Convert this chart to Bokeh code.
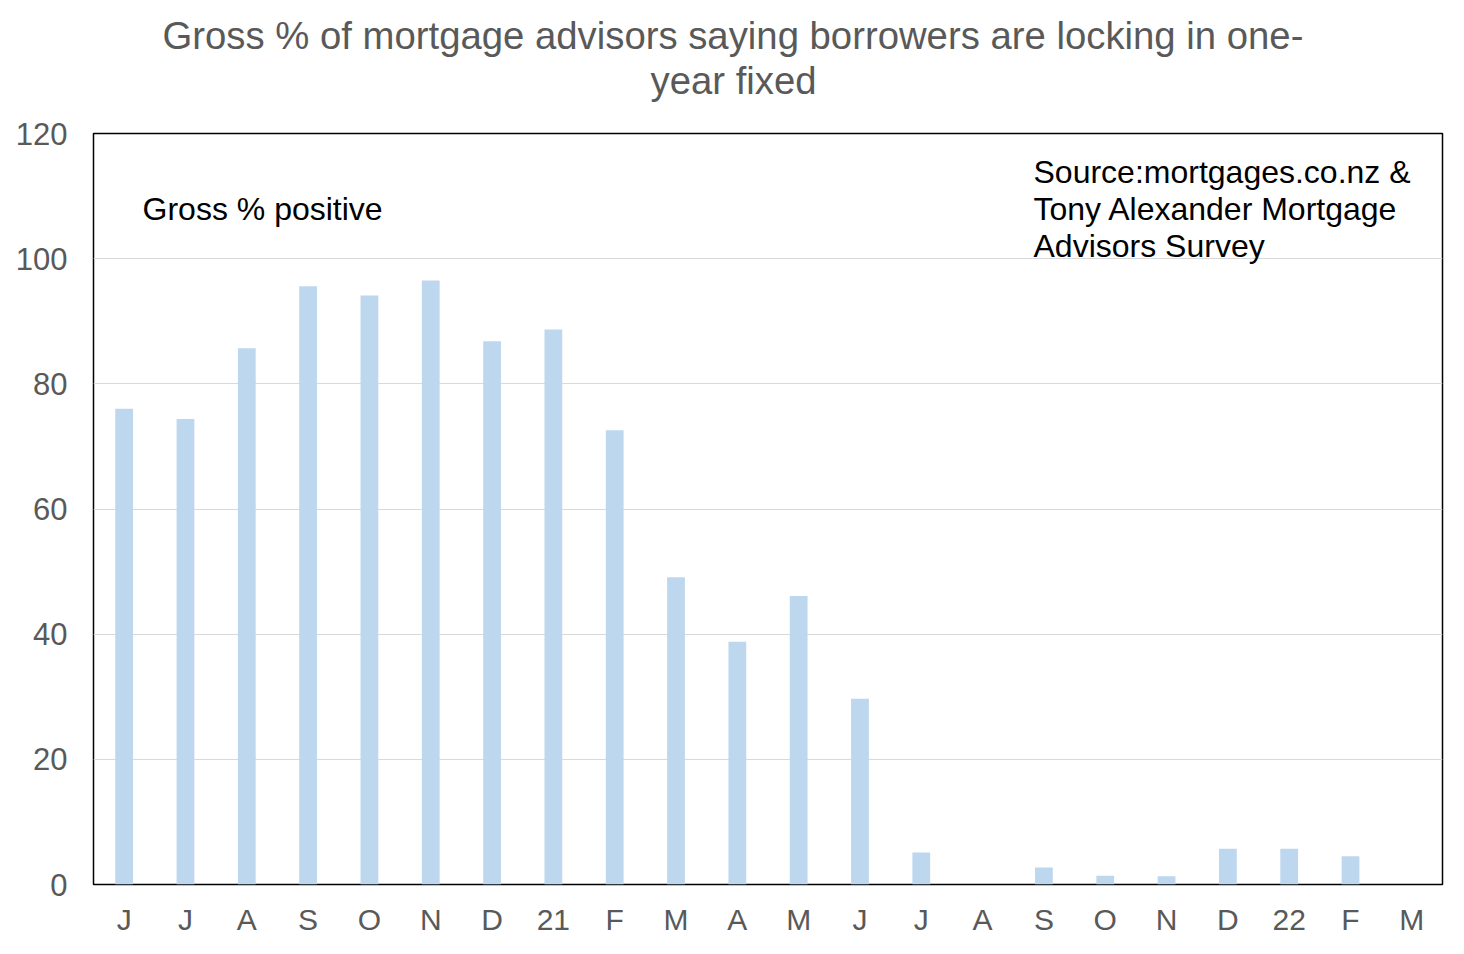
from bokeh.plotting import figure
from bokeh.models import Range1d, FixedTicker, Label, Title
from bokeh.embed import file_html
from bokeh.resources import INLINE

months = ["J", "J", "A", "S", "O", "N", "D", "21", "F", "M", "A", "M",
          "J", "J", "A", "S", "O", "N", "D", "22", "F", "M"]
gross_positive = [76.0, 74.4, 85.7, 95.6, 94.1, 96.5, 86.8, 88.7, 72.6, 49.1, 38.8, 46.1,
                  29.7, 5.1, 0.0, 2.7, 1.4, 1.3, 5.7, 5.7, 4.5, 0.0]
y_ticks = [0, 20, 40, 60, 80, 100, 120]
title_line1 = "Gross % of mortgage advisors saying borrowers are locking in one-"
title_line2 = "year fixed"
note_text = "Gross % positive"
source_text = "Source:mortgages.co.nz  &\nTony Alexander  Mortgage\nAdvisors Survey"

FONT = "Liberation Sans"
GREY = "#595959"

idx = list(range(len(months)))

p = figure(width=1448, height=938, output_backend="svg", toolbar_location=None,
           x_range=Range1d(-0.5, len(months) - 0.5), y_range=Range1d(0, 120),
           min_border_left=93, min_border_right=6, min_border_bottom=53, min_border_top=133)
p.title = None

p.vbar(x=idx, top=gross_positive, width=0.29, fill_color="#BDD7EE", line_color=None)

# spacer between frame and title (closest to frame), then title lines
p.add_layout(Title(text=" ", text_font=FONT, text_font_size="10px", standoff=19), "above")
p.add_layout(Title(text=title_line2, align="left", offset=557, text_font=FONT,
                   text_font_size="38.3px", text_color=GREY, text_font_style="normal",
                   standoff=0), "above")
p.add_layout(Title(text=title_line1, align="left", offset=69, text_font=FONT,
                   text_font_size="38.3px", text_color=GREY, text_font_style="normal",
                   standoff=0), "above")

p.outline_line_color = "#000000"
p.outline_line_width = 1.5
p.background_fill_color = "white"
p.border_fill_color = "white"

p.xgrid.grid_line_color = None
p.ygrid.grid_line_color = "#D9D9D9"
p.ygrid.grid_line_width = 1.2

p.yaxis.ticker = FixedTicker(ticks=y_ticks)
p.xaxis.ticker = FixedTicker(ticks=idx)
p.xaxis.major_label_overrides = {i: m for i, m in enumerate(months)}

for ax in (p.xaxis[0], p.yaxis[0]):
    ax.axis_line_color = None
    ax.major_tick_line_color = None
    ax.minor_tick_line_color = None
    ax.major_tick_out = 0
    ax.major_tick_in = 0
    ax.minor_tick_out = 0
    ax.major_label_text_font = FONT
    ax.major_label_text_color = GREY
p.yaxis.major_label_text_font_size = "31px"
p.xaxis.major_label_text_font_size = "30px"
p.yaxis.major_label_standoff = 26
p.xaxis.major_label_standoff = 18

p.add_layout(Label(x=0.3, y=108, text=note_text, text_font=FONT,
                   text_font_size="32px", text_color="black", text_baseline="middle"))
p.add_layout(Label(x=14.83, y=107.9, text=source_text,
                   text_font=FONT, text_font_size="32px", text_color="black",
                   text_baseline="middle", text_line_height=1.03))

open("out.html", "w").write(file_html(p, INLINE))
